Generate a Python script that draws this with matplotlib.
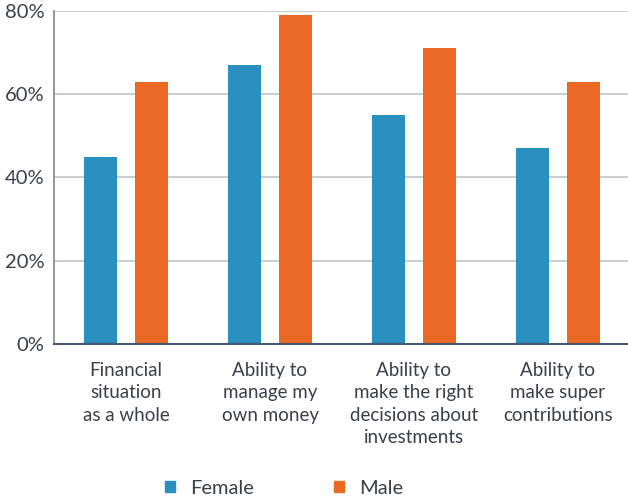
import matplotlib
matplotlib.use("Agg")
import matplotlib.pyplot as plt
from matplotlib.patches import Patch
import numpy as np

categories = ["Financial\nsituation\nas a whole",
              "Ability to\nmanage my\nown money",
              "Ability to\nmake the right\ndecisions about\ninvestments",
              "Ability to\nmake super\ncontributions"]
female = [45, 67, 55, 47]
male = [63, 79, 71, 63]
yticks = [0, 20, 40, 60, 80]
ytick_labels = ["0%", "20%", "40%", "60%", "80%"]
series_names = ["Female", "Male"]

BLUE = "#2990C0"
ORANGE = "#E86824"
TXT = "#3a3f4a"

plt.rcParams['font.family'] = ['Lato', 'DejaVu Sans']

fig = plt.figure(figsize=(6.28, 5.01), dpi=100)
ax = fig.add_axes([54/628, 1-344/501, 1-54/628, (344-11)/501])

x = np.arange(len(categories))
w = 0.229
off = 0.18
ax.bar(x - off, female, width=w, color=BLUE, zorder=3)
ax.bar(x + off, male, width=w, color=ORANGE, zorder=3)

ax.set_xlim(-0.5, -0.5 + 574/144)
ax.set_ylim(0, 80)
ax.set_yticks(yticks)
ax.set_yticklabels(ytick_labels, fontsize=14.5, color=TXT)
ax.set_xticks(x)
ax.set_xticklabels(categories, fontsize=13.5, color=TXT, linespacing=1.38)
ax.tick_params(axis='both', length=0)
ax.tick_params(axis='x', pad=13)
ax.tick_params(axis='y', pad=7)
ax.grid(axis='y', color="#c8c9d0", linewidth=1.3, zorder=0)
ax.set_axisbelow(True)
for s in ['top', 'right']:
    ax.spines[s].set_visible(False)
ax.spines['left'].set_color("#8a8f99")
ax.spines['left'].set_linewidth(1.3)
ax.spines['bottom'].set_color("#4a5670")
ax.spines['bottom'].set_linewidth(1.5)
ax.spines['bottom'].set_zorder(4)

handles = [Patch(color=BLUE), Patch(color=ORANGE)]
fig.legend(handles, series_names, loc='center', bbox_to_anchor=(284/628, 1-488/501),
           ncol=2, frameon=False, fontsize=14.5, handlelength=0.5, handleheight=0.5,
           handletextpad=0.75, columnspacing=4.0, labelcolor=TXT)

fig.savefig("out.png", dpi=100)
